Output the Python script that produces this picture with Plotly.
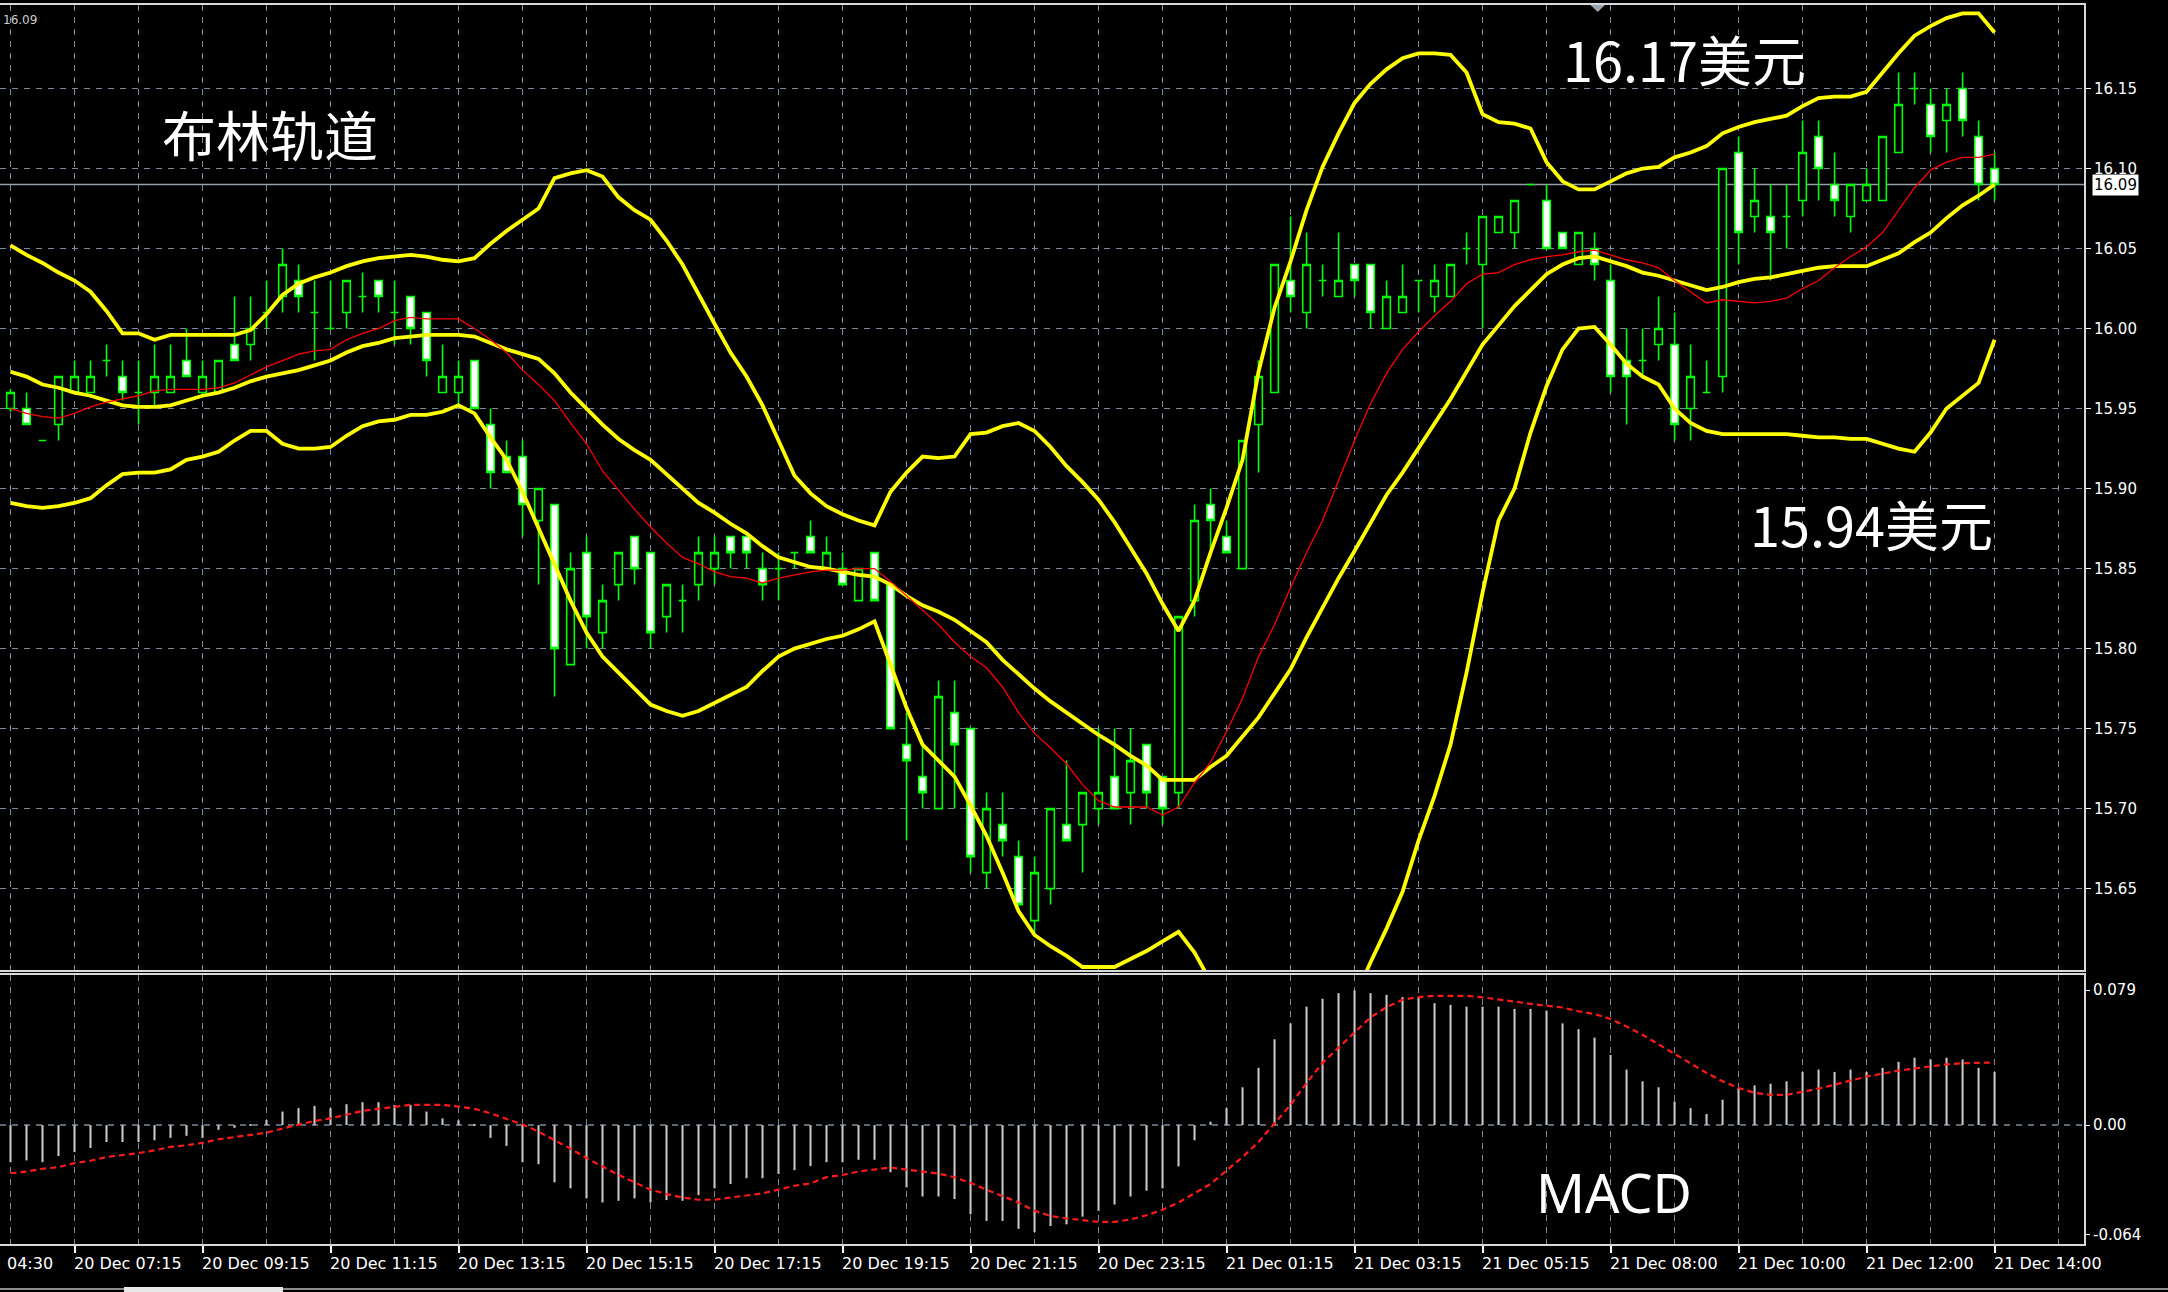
import plotly.graph_objects as go

# ---------------- data ----------------
bar_idx = list(range(125))

opens = [15.950, 15.950, 15.930, 15.940, 15.960, 15.960, 15.980, 15.970, 15.960, 15.960,
         15.960, 15.980, 15.960, 15.960, 15.990, 15.990, 16.010, 16.020, 16.030, 16.010,
         16.000, 16.010, 16.020, 16.030, 16.010, 16.020, 16.010, 15.960, 15.960, 15.980,
         15.940, 15.920, 15.920, 15.880, 15.890, 15.790, 15.860, 15.810, 15.840, 15.870,
         15.860, 15.820, 15.830, 15.840, 15.850, 15.870, 15.870, 15.850, 15.850, 15.860,
         15.870, 15.850, 15.850, 15.830, 15.860, 15.840, 15.740, 15.720, 15.700, 15.760,
         15.750, 15.660, 15.690, 15.670, 15.630, 15.650, 15.690, 15.690, 15.700, 15.720,
         15.710, 15.740, 15.720, 15.710, 15.830, 15.890, 15.870, 15.850, 15.940, 15.960,
         16.030, 16.010, 16.030, 16.020, 16.040, 16.040, 16.000, 16.010, 16.030, 16.020,
         16.020, 16.050, 16.040, 16.060, 16.060, 16.090, 16.080, 16.060, 16.040, 16.050,
         16.030, 15.980, 15.980, 15.990, 15.990, 15.950, 15.960, 15.970, 16.110, 16.070,
         16.070, 16.070, 16.080, 16.120, 16.090, 16.070, 16.080, 16.080, 16.110, 16.150,
         16.140, 16.130, 16.150, 16.120, 16.100]

highs = [15.962, 15.960, 15.930, 15.970, 15.980, 15.980, 15.990, 15.980, 15.980, 15.990,
         15.990, 16.000, 15.980, 15.980, 16.020, 16.020, 16.030, 16.050, 16.040, 16.030,
         16.030, 16.030, 16.035, 16.030, 16.030, 16.020, 16.010, 15.990, 15.980, 15.980,
         15.950, 15.930, 15.930, 15.900, 15.890, 15.860, 15.870, 15.840, 15.860, 15.870,
         15.860, 15.840, 15.840, 15.870, 15.870, 15.870, 15.870, 15.860, 15.860, 15.860,
         15.880, 15.870, 15.860, 15.850, 15.860, 15.840, 15.760, 15.740, 15.780, 15.780,
         15.750, 15.710, 15.710, 15.680, 15.670, 15.700, 15.730, 15.710, 15.750, 15.750,
         15.750, 15.740, 15.720, 15.820, 15.890, 15.900, 15.880, 15.930, 15.980, 16.040,
         16.070, 16.060, 16.040, 16.060, 16.040, 16.040, 16.030, 16.040, 16.030, 16.040,
         16.040, 16.060, 16.070, 16.070, 16.080, 16.090, 16.090, 16.060, 16.060, 16.060,
         16.040, 16.000, 16.000, 16.020, 16.010, 15.990, 15.980, 16.100, 16.120, 16.100,
         16.090, 16.090, 16.130, 16.130, 16.110, 16.090, 16.100, 16.120, 16.160, 16.160,
         16.150, 16.150, 16.160, 16.130, 16.110]

lows = [15.948, 15.940, 15.930, 15.930, 15.960, 15.960, 15.970, 15.955, 15.940, 15.950,
        15.960, 15.970, 15.960, 15.960, 15.980, 15.980, 16.000, 16.010, 16.010, 15.980,
        16.000, 16.000, 16.010, 16.010, 15.990, 15.990, 15.970, 15.960, 15.950, 15.950,
        15.900, 15.910, 15.870, 15.840, 15.770, 15.790, 15.800, 15.800, 15.830, 15.840,
        15.800, 15.810, 15.810, 15.830, 15.840, 15.850, 15.850, 15.830, 15.830, 15.850,
        15.860, 15.850, 15.840, 15.830, 15.830, 15.750, 15.680, 15.700, 15.700, 15.700,
        15.660, 15.650, 15.670, 15.640, 15.620, 15.640, 15.680, 15.660, 15.690, 15.700,
        15.690, 15.700, 15.690, 15.700, 15.820, 15.860, 15.860, 15.850, 15.910, 15.960,
        16.010, 16.000, 16.020, 16.020, 16.020, 16.000, 16.000, 16.010, 16.010, 16.010,
        16.020, 16.040, 16.000, 16.060, 16.050, 16.090, 16.050, 16.050, 16.040, 16.030,
        15.960, 15.940, 15.970, 15.980, 15.930, 15.930, 15.960, 15.960, 16.040, 16.060,
        16.030, 16.050, 16.070, 16.080, 16.070, 16.060, 16.080, 16.080, 16.110, 16.140,
        16.110, 16.110, 16.120, 16.080, 16.080]

closes = [15.960, 15.940, 15.930, 15.970, 15.970, 15.970, 15.980, 15.960, 15.960, 15.970,
          15.970, 15.970, 15.970, 15.980, 15.980, 16.000, 16.010, 16.040, 16.020, 16.010,
          16.000, 16.030, 16.020, 16.020, 16.010, 16.000, 15.980, 15.970, 15.970, 15.950,
          15.910, 15.910, 15.890, 15.900, 15.800, 15.850, 15.820, 15.830, 15.860, 15.850,
          15.810, 15.840, 15.830, 15.860, 15.860, 15.860, 15.860, 15.840, 15.850, 15.860,
          15.860, 15.860, 15.840, 15.850, 15.830, 15.750, 15.730, 15.710, 15.770, 15.740,
          15.670, 15.700, 15.680, 15.640, 15.660, 15.700, 15.680, 15.710, 15.710, 15.700,
          15.730, 15.710, 15.700, 15.820, 15.880, 15.880, 15.860, 15.930, 15.970, 16.040,
          16.020, 16.040, 16.030, 16.030, 16.030, 16.010, 16.020, 16.020, 16.030, 16.030,
          16.040, 16.050, 16.070, 16.070, 16.080, 16.090, 16.050, 16.050, 16.060, 16.040,
          15.970, 15.970, 15.980, 16.000, 15.940, 15.970, 15.960, 16.100, 16.060, 16.080,
          16.060, 16.070, 16.110, 16.100, 16.080, 16.090, 16.090, 16.120, 16.140, 16.150,
          16.120, 16.140, 16.130, 16.090, 16.090]

bb_upper = [16.052, 16.046, 16.041, 16.035, 16.030, 16.023, 16.011, 15.997, 15.997, 15.993,
            15.996, 15.996, 15.996, 15.996, 15.996, 15.999, 16.009, 16.021, 16.028, 16.032,
            16.035, 16.039, 16.042, 16.044, 16.045, 16.046, 16.045, 16.043, 16.042, 16.044,
            16.053, 16.061, 16.068, 16.075, 16.094, 16.097, 16.099, 16.095, 16.082, 16.074,
            16.068, 16.055, 16.040, 16.021, 16.003, 15.985, 15.970, 15.952, 15.930, 15.908,
            15.897, 15.889, 15.884, 15.880, 15.877, 15.898, 15.910, 15.920, 15.919, 15.920,
            15.934, 15.935, 15.939, 15.941, 15.936, 15.926, 15.914, 15.904, 15.893, 15.879,
            15.863, 15.847, 15.828, 15.811, 15.830, 15.860, 15.888, 15.918, 15.973, 16.013,
            16.042, 16.074, 16.101, 16.122, 16.141, 16.153, 16.162, 16.169, 16.172, 16.172,
            16.171, 16.160, 16.134, 16.129, 16.128, 16.125, 16.104, 16.092, 16.087, 16.087,
            16.092, 16.097, 16.100, 16.101, 16.107, 16.110, 16.114, 16.122, 16.126, 16.129,
            16.131, 16.133, 16.139, 16.144, 16.145, 16.145, 16.148, 16.160, 16.172, 16.183,
            16.189, 16.194, 16.197, 16.197, 16.185]

bb_middle = [15.973, 15.970, 15.965, 15.963, 15.960, 15.958, 15.955, 15.952, 15.951, 15.951,
             15.952, 15.955, 15.958, 15.960, 15.963, 15.967, 15.970, 15.972, 15.974, 15.977,
             15.980, 15.985, 15.989, 15.991, 15.994, 15.995, 15.996, 15.996, 15.996, 15.995,
             15.991, 15.987, 15.984, 15.981, 15.972, 15.960, 15.950, 15.940, 15.931, 15.924,
             15.918, 15.909, 15.900, 15.891, 15.885, 15.878, 15.872, 15.864, 15.857, 15.854,
             15.851, 15.850, 15.848, 15.846, 15.845, 15.840, 15.833, 15.827, 15.823, 15.818,
             15.811, 15.804, 15.793, 15.784, 15.775, 15.767, 15.760, 15.753, 15.746, 15.740,
             15.733, 15.727, 15.718, 15.718, 15.718, 15.726, 15.733, 15.745, 15.757, 15.772,
             15.787, 15.807, 15.826, 15.844, 15.861, 15.879, 15.896, 15.910, 15.925, 15.941,
             15.956, 15.973, 15.990, 16.002, 16.014, 16.024, 16.034, 16.040, 16.044, 16.045,
             16.042, 16.039, 16.035, 16.033, 16.030, 16.027, 16.024, 16.026, 16.029, 16.031,
             16.032, 16.034, 16.036, 16.038, 16.039, 16.039, 16.039, 16.043, 16.047, 16.054,
             16.060, 16.069, 16.077, 16.083, 16.090]

bb_lower = [15.891, 15.889, 15.888, 15.889, 15.891, 15.894, 15.902, 15.909, 15.910, 15.910,
            15.912, 15.918, 15.920, 15.923, 15.930, 15.936, 15.936, 15.928, 15.925, 15.925,
            15.926, 15.933, 15.939, 15.942, 15.943, 15.946, 15.946, 15.948, 15.952, 15.947,
            15.932, 15.918, 15.898, 15.875, 15.853, 15.830, 15.810, 15.795, 15.785, 15.775,
            15.765, 15.761, 15.758, 15.761, 15.766, 15.771, 15.776, 15.786, 15.795, 15.800,
            15.803, 15.806, 15.808, 15.812, 15.817, 15.790, 15.763, 15.740, 15.730, 15.720,
            15.702, 15.683, 15.660, 15.636, 15.621, 15.614, 15.608, 15.601, 15.601, 15.601,
            15.606, 15.611, 15.617, 15.623, 15.610, 15.592, 15.578, 15.572, 15.541, 15.531,
            15.532, 15.540, 15.551, 15.566, 15.581, 15.604, 15.625, 15.648, 15.680, 15.708,
            15.740, 15.785, 15.835, 15.880, 15.900, 15.935, 15.964, 15.987, 16.000, 16.001,
            15.990, 15.978, 15.970, 15.965, 15.950, 15.941, 15.936, 15.934, 15.934, 15.934,
            15.934, 15.934, 15.933, 15.932, 15.932, 15.931, 15.931, 15.928, 15.925, 15.923,
            15.935, 15.950, 15.958, 15.966, 15.993]

ma_red = [15.950, 15.947, 15.945, 15.944, 15.947, 15.951, 15.954, 15.956, 15.958, 15.961,
          15.962, 15.962, 15.962, 15.963, 15.966, 15.971, 15.976, 15.980, 15.984, 15.986,
          15.987, 15.993, 15.997, 16.000, 16.005, 16.007, 16.006, 16.006, 16.006, 16.000,
          15.993, 15.985, 15.974, 15.965, 15.955, 15.941, 15.928, 15.911, 15.899, 15.887,
          15.876, 15.866, 15.857, 15.853, 15.848, 15.845, 15.844, 15.841, 15.844, 15.846,
          15.848, 15.849, 15.849, 15.850, 15.850, 15.842, 15.833, 15.824, 15.815, 15.804,
          15.795, 15.788, 15.776, 15.760, 15.747, 15.738, 15.728, 15.715, 15.705, 15.701,
          15.701, 15.701, 15.696, 15.701, 15.716, 15.729, 15.748, 15.769, 15.795, 15.815,
          15.838, 15.860, 15.880, 15.905, 15.930, 15.953, 15.972, 15.987, 15.998, 16.008,
          16.017, 16.028, 16.034, 16.035, 16.040, 16.043, 16.045, 16.046, 16.048, 16.049,
          16.046, 16.043, 16.041, 16.038, 16.030, 16.023, 16.016, 16.018, 16.017, 16.016,
          16.017, 16.019, 16.025, 16.030, 16.038, 16.045, 16.051, 16.060, 16.074, 16.088,
          16.099, 16.104, 16.107, 16.107, 16.109]

macd_hist = [-0.0217, -0.0207, -0.0217, -0.0181, -0.0158, -0.0134, -0.0099, -0.0099, -0.0099, -0.0089,
             -0.0075, -0.0063, -0.0075, -0.0028, -0.0016, 0.0005, 0.0030, 0.0079, 0.0099, 0.0112,
             0.0099, 0.0122, 0.0134, 0.0134, 0.0118, 0.0118, 0.0079, 0.0039, 0.0028, 0.0003,
             -0.0075, -0.0122, -0.0217, -0.0229, -0.0335, -0.0370, -0.0429, -0.0453, -0.0443, -0.0429,
             -0.0453, -0.0439, -0.0443, -0.0410, -0.0370, -0.0345, -0.0311, -0.0311, -0.0286, -0.0264,
             -0.0240, -0.0217, -0.0217, -0.0203, -0.0203, -0.0276, -0.0364, -0.0418, -0.0418, -0.0433,
             -0.0522, -0.0561, -0.0561, -0.0607, -0.0626, -0.0591, -0.0581, -0.0536, -0.0502, -0.0465,
             -0.0418, -0.0384, -0.0370, -0.0242, -0.0089, 0.0020, 0.0099, 0.0221, 0.0335, 0.0502,
             0.0595, 0.0693, 0.0739, 0.0772, 0.0788, 0.0772, 0.0762, 0.0749, 0.0749, 0.0713,
             0.0703, 0.0693, 0.0693, 0.0693, 0.0680, 0.0680, 0.0670, 0.0595, 0.0561, 0.0512,
             0.0410, 0.0325, 0.0256, 0.0221, 0.0138, 0.0099, 0.0065, 0.0148, 0.0217, 0.0232,
             0.0242, 0.0256, 0.0311, 0.0325, 0.0311, 0.0325, 0.0311, 0.0335, 0.0370, 0.0394,
             0.0384, 0.0394, 0.0384, 0.0335, 0.0311]

macd_signal = [-0.0282, -0.0272, -0.0256, -0.0246, -0.0223, -0.0209, -0.0187, -0.0177, -0.0164, -0.0148,
               -0.0128, -0.0118, -0.0104, -0.0083, -0.0069, -0.0059, -0.0045, -0.0020, 0.0000, 0.0024,
               0.0039, 0.0063, 0.0083, 0.0095, 0.0108, 0.0118, 0.0118, 0.0118, 0.0108, 0.0095,
               0.0069, 0.0035, 0.0004, -0.0039, -0.0089, -0.0138, -0.0193, -0.0242, -0.0292, -0.0335,
               -0.0378, -0.0404, -0.0424, -0.0437, -0.0437, -0.0424, -0.0414, -0.0400, -0.0378, -0.0355,
               -0.0341, -0.0305, -0.0292, -0.0272, -0.0260, -0.0248, -0.0260, -0.0272, -0.0284, -0.0305,
               -0.0339, -0.0378, -0.0414, -0.0453, -0.0502, -0.0532, -0.0546, -0.0556, -0.0567, -0.0567,
               -0.0552, -0.0528, -0.0496, -0.0453, -0.0400, -0.0345, -0.0266, -0.0187, -0.0099, 0.0010,
               0.0118, 0.0246, 0.0364, 0.0453, 0.0542, 0.0630, 0.0690, 0.0733, 0.0749, 0.0756,
               0.0756, 0.0756, 0.0747, 0.0737, 0.0723, 0.0709, 0.0697, 0.0688, 0.0666, 0.0650,
               0.0621, 0.0577, 0.0528, 0.0473, 0.0418, 0.0364, 0.0305, 0.0256, 0.0217, 0.0189,
               0.0177, 0.0177, 0.0193, 0.0213, 0.0236, 0.0260, 0.0284, 0.0301, 0.0319, 0.0331,
               0.0345, 0.0355, 0.0362, 0.0366, 0.0366]

price_ticks = [15.65, 15.70, 15.75, 15.80, 15.85, 15.90, 15.95, 16.00, 16.05, 16.10, 16.15]
price_tick_text = ["15.65", "15.70", "15.75", "15.80", "15.85", "15.90", "15.95",
                   "16.00", "16.05", "16.10", "16.15"]
macd_ticks = [0.079, 0.0, -0.064]
macd_tick_text = ["0.079", "0.00", "-0.064"]

# first label sits left of the visible area; only its time part shows in the picture
time_label_idx = [-4, 4, 12, 20, 28, 36, 44, 52, 60, 68, 76, 84, 92, 100, 108, 116, 124]
time_labels = ["04:30", "20 Dec 07:15", "20 Dec 09:15", "20 Dec 11:15", "20 Dec 13:15",
               "20 Dec 15:15", "20 Dec 17:15", "20 Dec 19:15", "20 Dec 21:15", "20 Dec 23:15",
               "21 Dec 01:15", "21 Dec 03:15", "21 Dec 05:15", "21 Dec 08:00", "21 Dec 10:00",
               "21 Dec 12:00", "21 Dec 14:00"]

current_price = 16.09
shift_marker_idx = 99.2

# ---------------- layout constants ----------------
W, H = 2168, 1292
ML, MR, MT, MB = 0, 84, 5, 48
PLOT_W = W - ML - MR
PLOT_H = H - MT - MB
X_RANGE = [-0.656, 129.59]
Y_RANGE = [15.5991, 16.2022]
Y2_RANGE = [-0.0696, 0.0878]
MAIN_DOMAIN = [0.2211, 1.0]
MACD_DOMAIN = [0.0, 0.2171]

GRID = "#7b8a99"
GRID_DASH = "6px,6px"
BORDER = "#d8d8d8"
TICKFONT = dict(family="DejaVu Sans", size=15, color="white")
XLABEL_FONT = dict(family="DejaVu Sans", size=16, color="white")

fig = go.Figure()

fig.add_trace(go.Candlestick(
    x=bar_idx, open=opens, high=highs, low=lows, close=closes,
    increasing=dict(line=dict(color="#00ff00", width=1.6), fillcolor="black"),
    decreasing=dict(line=dict(color="#00ff00", width=1.6), fillcolor="white"),
    whiskerwidth=0, xaxis="x", yaxis="y", hoverinfo="skip", showlegend=False,
))

for series in (bb_upper, bb_middle, bb_lower):
    fig.add_trace(go.Scatter(x=bar_idx, y=series, mode="lines",
                             line=dict(color="#ffff00", width=3.8),
                             xaxis="x", yaxis="y", showlegend=False, hoverinfo="skip"))

fig.add_trace(go.Scatter(x=bar_idx, y=ma_red, mode="lines",
                         line=dict(color="#ff0000", width=1.3),
                         xaxis="x", yaxis="y", showlegend=False, hoverinfo="skip"))

fig.add_trace(go.Bar(x=bar_idx, y=macd_hist, width=0.13,
                     marker=dict(color="#c8c8c8", line=dict(width=0)),
                     xaxis="x2", yaxis="y2", showlegend=False, hoverinfo="skip"))

fig.add_trace(go.Scatter(x=bar_idx, y=macd_signal, mode="lines",
                         line=dict(color="#ff1a1a", width=2.2, dash="6px,4px"),
                         xaxis="x2", yaxis="y2", showlegend=False, hoverinfo="skip"))

fig.update_layout(
    width=W, height=H,
    margin=dict(l=ML, r=MR, t=MT, b=MB),
    paper_bgcolor="black", plot_bgcolor="black",
    showlegend=False, boxgap=0.32,
    xaxis=dict(domain=[0, 1], anchor="y", range=X_RANGE, rangeslider=dict(visible=False),
               tickmode="linear", tick0=0, dtick=4, showticklabels=False, ticks="",
               showgrid=True, gridcolor=GRID, griddash=GRID_DASH, gridwidth=1,
               zeroline=False, showline=True, mirror=True, linecolor=BORDER, linewidth=2),
    yaxis=dict(domain=MAIN_DOMAIN, anchor="x", side="right", range=Y_RANGE,
               tickmode="array", tickvals=price_ticks, ticktext=price_tick_text,
               ticks="outside", ticklen=5, tickcolor="white", tickfont=TICKFONT,
               showgrid=True, gridcolor=GRID, griddash=GRID_DASH, gridwidth=1,
               zeroline=False, showline=True, linecolor=BORDER, linewidth=2),
    xaxis2=dict(domain=[0, 1], anchor="y2", range=X_RANGE, matches="x",
                tickmode="array", tickvals=[i for i in time_label_idx if i >= X_RANGE[0]],
                showticklabels=False, ticks="outside", ticklen=7, tickcolor="white", tickwidth=2,
                showgrid=True, gridcolor=GRID, griddash=GRID_DASH, gridwidth=1,
                minor=dict(tick0=0, dtick=4, showgrid=True, gridcolor=GRID,
                           griddash=GRID_DASH, gridwidth=1, ticks=""),
                zeroline=False, showline=True, mirror=True, linecolor=BORDER, linewidth=2),
    yaxis2=dict(domain=MACD_DOMAIN, anchor="x2", side="right", range=Y2_RANGE,
                tickmode="array", tickvals=macd_ticks, ticktext=macd_tick_text,
                ticks="outside", ticklen=4, tickcolor="white", tickfont=TICKFONT,
                showgrid=False, zeroline=False, showline=True, linecolor=BORDER, linewidth=2),
)

shapes = [
    # current price line
    dict(type="line", xref="x domain", yref="y", x0=0, x1=1, y0=current_price, y1=current_price,
         line=dict(color="#95a0ab", width=1.6), layer="below"),
    # MACD zero level
    dict(type="line", xref="x2 domain", yref="y2", x0=0, x1=1, y0=0, y1=0,
         line=dict(color=GRID, width=1.5, dash=GRID_DASH), layer="below"),
    # chart shift marker
    dict(type="path", xref="x", yref="paper",
         path=f"M {shift_marker_idx - 0.45} 1 L {shift_marker_idx + 0.45} 1 L {shift_marker_idx} {1 - 7 / PLOT_H} Z",
         fillcolor="#9aa4ae", line=dict(width=0)),
    # bottom tab strip
    dict(type="line", xref="paper", yref="paper", x0=0, x1=W / PLOT_W,
         y0=-(H - MT - 3 - PLOT_H) / PLOT_H, y1=-(H - MT - 3 - PLOT_H) / PLOT_H,
         line=dict(color="#8a8a8a", width=2)),
    dict(type="rect", xref="paper", yref="paper", x0=124 / PLOT_W, x1=283 / PLOT_W,
         y0=-(H - MT - PLOT_H) / PLOT_H, y1=-(H - MT - 5 - PLOT_H) / PLOT_H,
         fillcolor="#e8e8e8", line=dict(width=0)),
]
fig.update_layout(shapes=shapes)

annotations = []
for idx, txt in zip(time_label_idx, time_labels):
    if idx < X_RANGE[0]:
        ax_x, shift = X_RANGE[0], 5
    else:
        ax_x, shift = idx, -3
    annotations.append(dict(
        xref="x2", yref="paper", x=ax_x, y=0, xanchor="left", yanchor="top",
        xshift=shift, yshift=-8, showarrow=False, text=txt, font=XLABEL_FONT))

annotations += [
    dict(xref="x", yref="y", x=16.2, y=16.1216, text="布林轨道", showarrow=False,
         font=dict(family="Noto Sans CJK SC", size=54, color="white")),
    dict(xref="x", yref="y", x=104.6, y=16.169, text="16.17美元", showarrow=False,
         font=dict(family="Noto Sans CJK SC", size=54, color="white")),
    dict(xref="x", yref="y", x=116.3, y=15.8784, text="15.94美元", showarrow=False,
         font=dict(family="Noto Sans CJK SC", size=54, color="white")),
    dict(xref="x2", yref="y2", x=100.2, y=-0.0392, text="MACD", showarrow=False,
         font=dict(family="Noto Sans", size=54, color="white")),
    dict(xref="paper", yref="y", x=1, y=current_price, xanchor="left", xshift=8,
         text="16.09", showarrow=False, bgcolor="white", borderpad=1,
         font=dict(family="DejaVu Sans", size=15, color="black")),
    dict(xref="paper", yref="paper", x=0, y=1, xanchor="left", yanchor="top",
         xshift=1, yshift=-6, text="16.09", showarrow=False,
         font=dict(family="DejaVu Sans", size=12, color="#cfcfcf")),
]
fig.update_layout(annotations=annotations)

fig.write_html("out.html", config={"displayModeBar": False},
               post_script="document.body.style.margin='0';document.body.style.overflow='hidden';")
